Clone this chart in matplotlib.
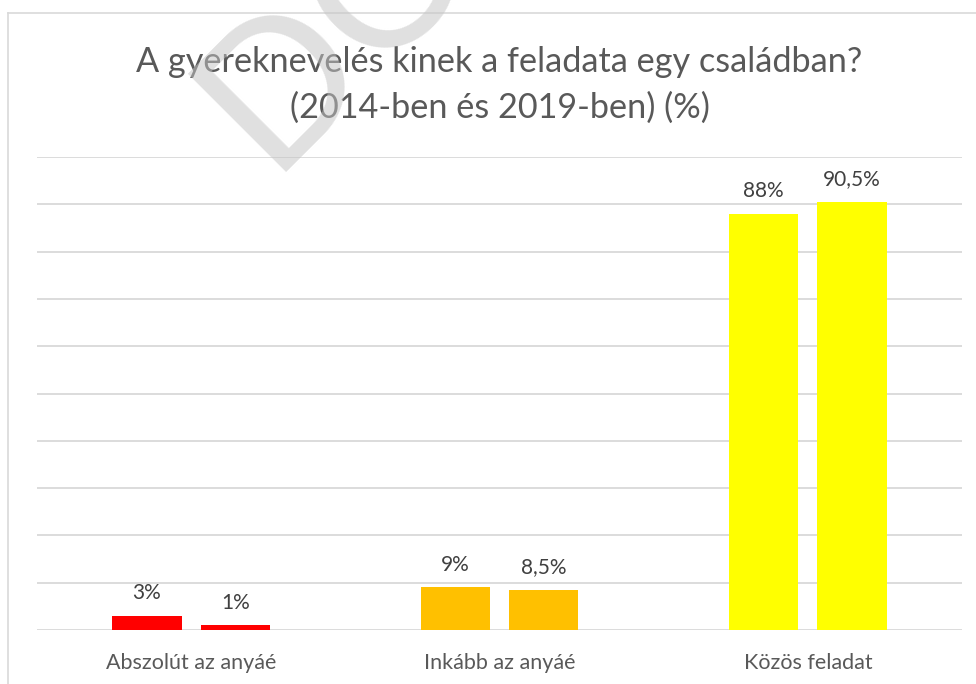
import matplotlib
matplotlib.use("Agg")
import matplotlib.pyplot as plt
from matplotlib.lines import Line2D
import numpy as np

categories = ["Abszolút az anyáé", "Inkább az anyáé", "Közös feladat"]
values_2014 = [3, 9, 88]
values_2019 = [1, 8.5, 90.5]
labels_2014 = ["3%", "9%", "88%"]
labels_2019 = ["1%", "8,5%", "90,5%"]
colors = ["#FF0000", "#FFC000", "#FFFF00"]
title_lines = ["A gyereknevelés kinek a feladata egy családban?",
               "(2014-ben és 2019-ben) (%)"]

plt.rcParams['font.family'] = ['Lato', 'DejaVu Sans']
TXT = "#595959"

W, H = 976, 684
fig = plt.figure(figsize=(W/100, H/100), dpi=100)
ax = fig.add_axes([37/W, 1-630/H, (962-37)/W, (630-157)/H])

x = np.arange(len(categories))
w = 0.225
off = 0.1435
b1 = ax.bar(x - off, values_2014, w, color=colors, zorder=3)
b2 = ax.bar(x + off, values_2019, w, color=colors, zorder=3)
for bars, labs in ((b1, labels_2014), (b2, labels_2019)):
    for r, lab in zip(bars, labs):
        ax.annotate(lab, (r.get_x() + r.get_width()/2, r.get_height()),
                    xytext=(0, 9), textcoords="offset points",
                    ha="center", va="bottom", fontsize=15, color="#404040")

ax.set_xlim(-0.5, 2.5)
ax.set_ylim(0, 100)
ax.set_yticks(np.arange(0, 101, 10))
ax.yaxis.grid(True, color="#D9D9D9", lw=1.3, zorder=0)
ax.tick_params(axis='y', left=False, labelleft=False)
ax.set_xticks(x)
ax.set_xticklabels(categories, fontsize=15.5, color=TXT)
ax.tick_params(axis='x', bottom=False, pad=13)
for s in ax.spines.values():
    s.set_visible(False)

for line, yb in zip(title_lines, (72, 118)):
    fig.text(499.5/W, 1-yb/H, line, ha="center", va="baseline", fontsize=24.7, color=TXT)

# outer frame
fig.add_artist(Line2D([8/W, 1], [1-13/H, 1-13/H], color="#D9D9D9", lw=1.2, transform=fig.transFigure))
fig.add_artist(Line2D([8/W, 8/W], [1-13/H, 0], color="#D9D9D9", lw=1.2, transform=fig.transFigure))

# watermark
fig.text(269/W, 1-172/H, "DO", rotation=45, rotation_mode="anchor", ha="left", va="baseline",
         fontsize=140, color="#C4C4C4", alpha=0.52, zorder=10)

fig.savefig("out.png", dpi=100)
